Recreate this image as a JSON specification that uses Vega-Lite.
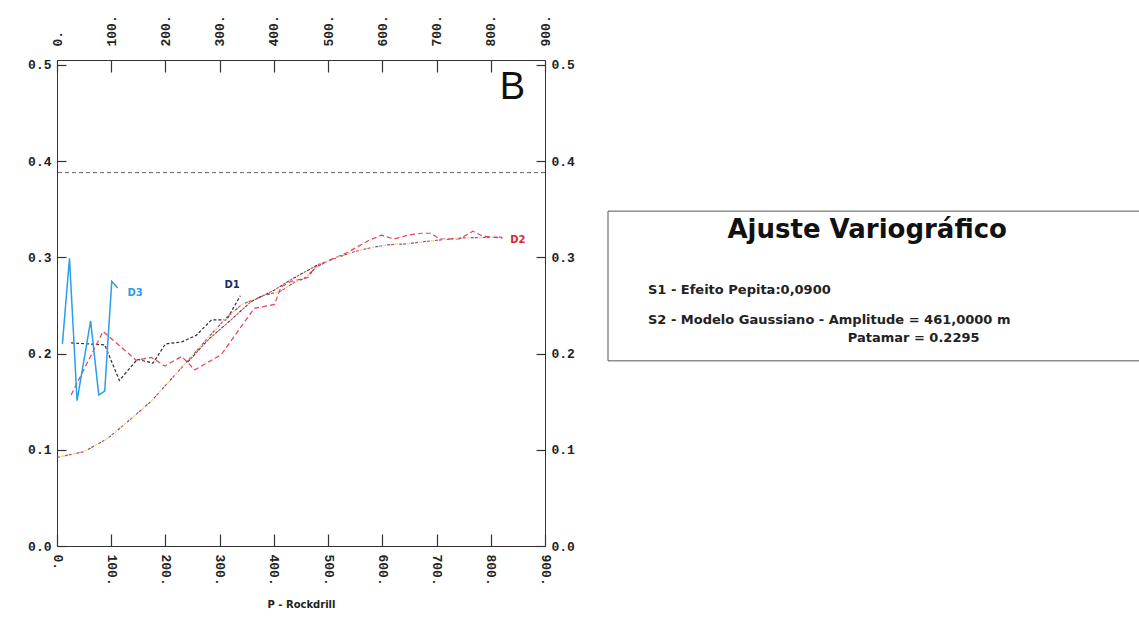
{
  "$schema": "https://vega.github.io/schema/vega-lite/v6.json",
  "background": "white",
  "padding": {"left": 27, "top": 14, "right": 0, "bottom": 0},
  "bounds": "flush",
  "spacing": 63,
  "config": {"view": {"stroke": null}},
  "datasets": {
    "variograma": [
      {"serie": "D3", "h": 10, "g": 0.210}, {"serie": "D3", "h": 23, "g": 0.299}, {"serie": "D3", "h": 37, "g": 0.151},
      {"serie": "D3", "h": 62, "g": 0.234}, {"serie": "D3", "h": 77, "g": 0.157}, {"serie": "D3", "h": 88, "g": 0.161},
      {"serie": "D3", "h": 101, "g": 0.275}, {"serie": "D3", "h": 112, "g": 0.268},
      {"serie": "D1", "h": 26, "g": 0.211}, {"serie": "D1", "h": 88, "g": 0.209}, {"serie": "D1", "h": 115, "g": 0.172},
      {"serie": "D1", "h": 148, "g": 0.194}, {"serie": "D1", "h": 177, "g": 0.190}, {"serie": "D1", "h": 200, "g": 0.210},
      {"serie": "D1", "h": 230, "g": 0.212}, {"serie": "D1", "h": 257, "g": 0.219}, {"serie": "D1", "h": 285, "g": 0.235},
      {"serie": "D1", "h": 313, "g": 0.235}, {"serie": "D1", "h": 338, "g": 0.260},
      {"serie": "D2", "h": 26, "g": 0.157}, {"serie": "D2", "h": 85, "g": 0.223}, {"serie": "D2", "h": 146, "g": 0.193},
      {"serie": "D2", "h": 174, "g": 0.196}, {"serie": "D2", "h": 199, "g": 0.187}, {"serie": "D2", "h": 230, "g": 0.197},
      {"serie": "D2", "h": 254, "g": 0.183}, {"serie": "D2", "h": 303, "g": 0.199}, {"serie": "D2", "h": 364, "g": 0.247},
      {"serie": "D2", "h": 401, "g": 0.251}, {"serie": "D2", "h": 413, "g": 0.269}, {"serie": "D2", "h": 432, "g": 0.275},
      {"serie": "D2", "h": 463, "g": 0.279}, {"serie": "D2", "h": 475, "g": 0.289}, {"serie": "D2", "h": 506, "g": 0.298},
      {"serie": "D2", "h": 536, "g": 0.305}, {"serie": "D2", "h": 573, "g": 0.317}, {"serie": "D2", "h": 598, "g": 0.323},
      {"serie": "D2", "h": 622, "g": 0.319}, {"serie": "D2", "h": 647, "g": 0.323}, {"serie": "D2", "h": 672, "g": 0.325},
      {"serie": "D2", "h": 690, "g": 0.325}, {"serie": "D2", "h": 705, "g": 0.319}, {"serie": "D2", "h": 742, "g": 0.319},
      {"serie": "D2", "h": 767, "g": 0.327}, {"serie": "D2", "h": 785, "g": 0.322}, {"serie": "D2", "h": 822, "g": 0.320},
      {"serie": "Modelo", "h": 0, "g": 0.092}, {"serie": "Modelo", "h": 50, "g": 0.098}, {"serie": "Modelo", "h": 94, "g": 0.112},
      {"serie": "Modelo", "h": 130, "g": 0.129}, {"serie": "Modelo", "h": 173, "g": 0.150}, {"serie": "Modelo", "h": 210, "g": 0.173},
      {"serie": "Modelo", "h": 250, "g": 0.198}, {"serie": "Modelo", "h": 278, "g": 0.216}, {"serie": "Modelo", "h": 310, "g": 0.236},
      {"serie": "Modelo", "h": 341, "g": 0.251}, {"serie": "Modelo", "h": 380, "g": 0.260}, {"serie": "Modelo", "h": 413, "g": 0.265},
      {"serie": "Modelo", "h": 438, "g": 0.274}, {"serie": "Modelo", "h": 456, "g": 0.278}, {"serie": "Modelo", "h": 475, "g": 0.288},
      {"serie": "Modelo", "h": 493, "g": 0.295}, {"serie": "Modelo", "h": 518, "g": 0.300}, {"serie": "Modelo", "h": 549, "g": 0.306},
      {"serie": "Modelo", "h": 579, "g": 0.310}, {"serie": "Modelo", "h": 610, "g": 0.313}, {"serie": "Modelo", "h": 647, "g": 0.314},
      {"serie": "Modelo", "h": 672, "g": 0.316}, {"serie": "Modelo", "h": 742, "g": 0.320}, {"serie": "Modelo", "h": 822, "g": 0.321},
      {"serie": "M2", "h": 241, "g": 0.191}, {"serie": "M2", "h": 280, "g": 0.215}, {"serie": "M2", "h": 321, "g": 0.235},
      {"serie": "M2", "h": 358, "g": 0.254}, {"serie": "M2", "h": 401, "g": 0.266}, {"serie": "M2", "h": 432, "g": 0.277},
      {"serie": "M2", "h": 487, "g": 0.294}
    ]
  },
  "hconcat": [
    {
      "width": 488,
      "height": 486,
      "data": {"name": "variograma"},
      "resolve": {"axis": {"x": "independent", "y": "independent"}},
      "layer": [
        {
          "transform": [{"filter": "datum.serie === 'D1'"}],
          "mark": {"type": "line", "color": "#2b2b3a", "strokeWidth": 1.2, "strokeDash": [3, 2]},
          "encoding": {
            "x": {"field": "h", "type": "quantitative", "scale": {"domain": [0, 900], "nice": false, "zero": false},
              "axis": {"orient": "bottom", "values": [0, 100, 200, 300, 400, 500, 600, 700, 800, 900], "labelExpr": "datum.value + '.'",
                "labelAngle": 90, "tickSize": -12, "tickWidth": 1.2, "labelPadding": 20, "grid": false, "domainColor": "#333", "tickColor": "#333",
                "labelFont": "Liberation Mono", "labelFontWeight": "bold", "labelFontSize": 13, "labelColor": "#222",
                "title": "P - Rockdrill", "titleFont": "DejaVu Sans", "titleFontWeight": "bold", "titleFontSize": 10, "titleColor": "#222", "titlePadding": 14}},
            "y": {"field": "g", "type": "quantitative", "scale": {"domain": [0, 0.505], "nice": false, "zero": false},
              "axis": {"orient": "left", "values": [0, 0.1, 0.2, 0.3, 0.4, 0.5], "format": ".1f", "tickSize": -9, "tickWidth": 1.2, "labelPadding": 15,
                "grid": false, "domainColor": "#333", "tickColor": "#333", "labelFont": "Liberation Mono", "labelFontWeight": "bold",
                "labelFontSize": 13, "labelColor": "#222", "title": null}}
          }
        },
        {
          "transform": [{"filter": "datum.serie === 'D2'"}],
          "mark": {"type": "line", "color": "#e8405c", "strokeWidth": 1.2, "strokeDash": [5, 3]},
          "encoding": {
            "x": {"field": "h", "type": "quantitative", "scale": {"domain": [0, 900], "nice": false, "zero": false},
              "axis": {"orient": "top", "values": [0, 100, 200, 300, 400, 500, 600, 700, 800, 900], "labelExpr": "datum.value + '.'",
                "labelAngle": 270, "tickSize": -12, "tickWidth": 1.2, "labelPadding": 26, "grid": false, "domainColor": "#333", "tickColor": "#333",
                "labelFont": "Liberation Mono", "labelFontWeight": "bold", "labelFontSize": 13, "labelColor": "#222", "title": null}},
            "y": {"field": "g", "type": "quantitative", "scale": {"domain": [0, 0.505], "nice": false, "zero": false},
              "axis": {"orient": "right", "values": [0, 0.1, 0.2, 0.3, 0.4, 0.5], "format": ".1f", "tickSize": -9, "tickWidth": 1.2, "labelPadding": 15,
                "grid": false, "domainColor": "#333", "tickColor": "#333", "labelFont": "Liberation Mono", "labelFontWeight": "bold",
                "labelFontSize": 13, "labelColor": "#222", "title": null}}
          }
        },
        {
          "transform": [{"filter": "datum.serie === 'D3'"}],
          "mark": {"type": "line", "color": "#2a9fe6", "strokeWidth": 1.5},
          "encoding": {
            "x": {"field": "h", "type": "quantitative", "axis": null},
            "y": {"field": "g", "type": "quantitative", "axis": null}
          }
        },
        {
          "transform": [{"filter": "datum.serie === 'Modelo'"}],
          "mark": {"type": "line", "color": "#f0dc78", "strokeWidth": 1.3, "strokeDash": [3, 9], "strokeDashOffset": 8},
          "encoding": {
            "x": {"field": "h", "type": "quantitative", "axis": null},
            "y": {"field": "g", "type": "quantitative", "axis": null}
          }
        },
        {
          "transform": [{"filter": "datum.serie === 'Modelo'"}],
          "mark": {"type": "line", "color": "#e0405c", "strokeWidth": 1.2, "strokeDash": [3, 9]},
          "encoding": {
            "x": {"field": "h", "type": "quantitative", "axis": null},
            "y": {"field": "g", "type": "quantitative", "axis": null}
          }
        },
        {
          "transform": [{"filter": "datum.serie === 'Modelo'"}],
          "mark": {"type": "line", "color": "#666670", "strokeWidth": 1.2, "strokeDash": [3, 9], "strokeDashOffset": 4},
          "encoding": {
            "x": {"field": "h", "type": "quantitative", "axis": null},
            "y": {"field": "g", "type": "quantitative", "axis": null}
          }
        },
        {
          "transform": [{"filter": "datum.serie === 'M2'"}],
          "mark": {"type": "line", "color": "#3a3a44", "strokeWidth": 1.1, "strokeDash": [3, 5]},
          "encoding": {
            "x": {"field": "h", "type": "quantitative", "axis": null},
            "y": {"field": "g", "type": "quantitative", "axis": null}
          }
        },
        {
          "transform": [{"filter": "datum.serie === 'M2'"}],
          "mark": {"type": "line", "color": "#e0405c", "strokeWidth": 1.1, "strokeDash": [3, 5], "strokeDashOffset": 4},
          "encoding": {
            "x": {"field": "h", "type": "quantitative", "axis": null},
            "y": {"field": "g", "type": "quantitative", "axis": null}
          }
        },
        {
          "data": {"values": [{"patamar_total": 0.388}]},
          "mark": {"type": "rule", "color": "#666", "strokeWidth": 1, "strokeDash": [4, 3]},
          "encoding": {
            "y": {"field": "patamar_total", "type": "quantitative", "axis": null}
          }
        },
        {
          "data": {"values": [{"rotulo": "D3"}]},
          "mark": {"type": "text", "font": "DejaVu Sans", "fontWeight": "bold", "fontSize": 10, "color": "#2a9fe6", "align": "center", "baseline": "middle"},
          "encoding": {
            "x": {"datum": 144, "type": "quantitative", "axis": null},
            "y": {"datum": 0.263, "type": "quantitative", "axis": null},
            "text": {"field": "rotulo"}
          }
        },
        {
          "data": {"values": [{"rotulo": "D1"}]},
          "mark": {"type": "text", "font": "DejaVu Sans", "fontWeight": "bold", "fontSize": 10, "color": "#1a2a6c", "align": "center", "baseline": "middle"},
          "encoding": {
            "x": {"datum": 323, "type": "quantitative", "axis": null},
            "y": {"datum": 0.271, "type": "quantitative", "axis": null},
            "text": {"field": "rotulo"}
          }
        },
        {
          "data": {"values": [{"rotulo": "D2"}]},
          "mark": {"type": "text", "font": "DejaVu Sans", "fontWeight": "bold", "fontSize": 10, "color": "#d8282a", "align": "center", "baseline": "middle"},
          "encoding": {
            "x": {"datum": 850, "type": "quantitative", "axis": null},
            "y": {"datum": 0.318, "type": "quantitative", "axis": null},
            "text": {"field": "rotulo"}
          }
        },
        {
          "data": {"values": [{"rotulo": "B"}]},
          "mark": {"type": "text", "font": "Liberation Sans", "fontSize": 38, "color": "#111", "align": "center", "baseline": "middle"},
          "encoding": {
            "x": {"datum": 840, "type": "quantitative", "axis": null},
            "y": {"datum": 0.476, "type": "quantitative", "axis": null},
            "text": {"field": "rotulo"}
          }
        }
      ]
    },
    {
      "width": 540,
      "height": 486,
      "data": {"values": [{"titulo": "Ajuste Variográfico", "s1": "S1  - Efeito Pepita:0,0900", "s2": "S2  - Modelo Gaussiano - Amplitude = 461,0000 m", "patamar": "Patamar = 0.2295"}]},
      "layer": [
        {
          "mark": {"type": "rect", "fill": "white", "stroke": "#555", "strokeWidth": 1},
          "encoding": {
            "x": {"datum": 0, "type": "quantitative", "scale": {"domain": [0, 1], "nice": false, "zero": false}, "axis": null},
            "x2": {"datum": 1},
            "y": {"datum": 0.381, "type": "quantitative", "scale": {"domain": [0, 1], "nice": false, "zero": false}, "axis": null},
            "y2": {"datum": 0.689}
          }
        },
        {
          "mark": {"type": "text", "font": "DejaVu Sans", "fontWeight": "bold", "fontSize": 26, "color": "#111", "align": "center", "baseline": "middle"},
          "encoding": {
            "x": {"datum": 0.48, "type": "quantitative", "axis": null},
            "y": {"datum": 0.650, "type": "quantitative", "axis": null},
            "text": {"field": "titulo"}
          }
        },
        {
          "mark": {"type": "text", "font": "DejaVu Sans", "fontWeight": "bold", "fontSize": 13, "color": "#222", "align": "left", "baseline": "middle"},
          "encoding": {
            "x": {"datum": 0.074, "type": "quantitative", "axis": null},
            "y": {"datum": 0.527, "type": "quantitative", "axis": null},
            "text": {"field": "s1"}
          }
        },
        {
          "mark": {"type": "text", "font": "DejaVu Sans", "fontWeight": "bold", "fontSize": 13, "color": "#222", "align": "left", "baseline": "middle"},
          "encoding": {
            "x": {"datum": 0.074, "type": "quantitative", "axis": null},
            "y": {"datum": 0.465, "type": "quantitative", "axis": null},
            "text": {"field": "s2"}
          }
        },
        {
          "mark": {"type": "text", "font": "DejaVu Sans", "fontWeight": "bold", "fontSize": 13, "color": "#222", "align": "left", "baseline": "middle"},
          "encoding": {
            "x": {"datum": 0.444, "type": "quantitative", "axis": null},
            "y": {"datum": 0.428, "type": "quantitative", "axis": null},
            "text": {"field": "patamar"}
          }
        }
      ]
    }
  ]
}
